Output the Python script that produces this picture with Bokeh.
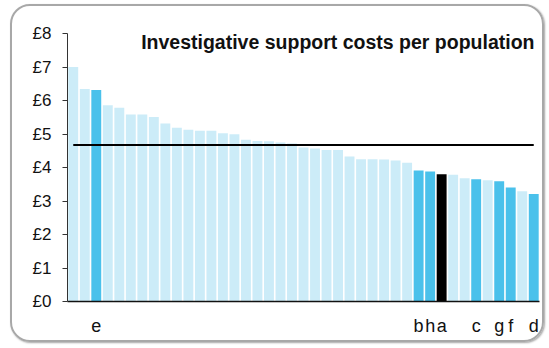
from bokeh.plotting import figure
from bokeh.models import Range1d, FixedTicker, PrintfTickFormatter, Label, ColumnDataSource
from bokeh.embed import file_html
from bokeh.resources import INLINE

# ---- data ----
values = [7.00, 6.34, 6.31, 5.86, 5.78, 5.58, 5.58, 5.51, 5.31, 5.19,
          5.13, 5.10, 5.10, 5.02, 4.99, 4.83, 4.79, 4.78, 4.75, 4.72,
          4.60, 4.57, 4.52, 4.52, 4.33, 4.25, 4.25, 4.24, 4.21, 4.14,
          3.91, 3.88, 3.80, 3.78, 3.68, 3.65, 3.62, 3.59, 3.40, 3.29,
          3.21]
labels = ["", "", "e", "", "", "", "", "", "", "",
          "", "", "", "", "", "", "", "", "", "",
          "", "", "", "", "", "", "", "", "", "",
          "b", "h", "a", "", "", "c", "", "g", "f", "",
          "d"]
# 0 = other, 1 = highlighted, 2 = selected
kinds = [0, 0, 1, 0, 0, 0, 0, 0, 0, 0,
         0, 0, 0, 0, 0, 0, 0, 0, 0, 0,
         0, 0, 0, 0, 0, 0, 0, 0, 0, 0,
         1, 1, 2, 0, 0, 1, 0, 1, 1, 0,
         1]
average = 4.67
title_text = "Investigative support costs per population"
y_ticks = [0, 1, 2, 3, 4, 5, 6, 7, 8]

palette = {0: "#CCECF8", 1: "#4AC1EB", 2: "#000000"}
xs = list(range(1, len(values) + 1))
colors = [palette[k] for k in kinds]
src = ColumnDataSource(dict(x=xs, top=values, color=colors))

FONT = "Liberation Sans"

p = figure(width=534, height=338, output_backend="svg", toolbar_location=None,
           x_range=Range1d(0.5, len(values) + 0.5), y_range=Range1d(0, 8),
           min_border_left=55, min_border_right=7, min_border_top=27, min_border_bottom=43,
           styles={"border": "2px solid #a8a8a8", "border-radius": "20px",
                   "box-shadow": "1px 1px 2px rgba(0,0,0,0.35)",
                   "margin-top": "4px", "margin-left": "10px"})
p.border_fill_color = None
p.background_fill_color = None
p.outline_line_color = None
p.xgrid.visible = False
p.ygrid.visible = False

p.vbar(x="x", top="top", bottom=0, width=0.86, color="color", line_color=None, source=src)
p.line(x=[xs[0], xs[-1]], y=[average, average], line_color="black", line_width=2)

# y axis
p.yaxis.ticker = FixedTicker(ticks=y_ticks)
p.yaxis.formatter = PrintfTickFormatter(format="£%d")
p.yaxis.major_tick_out = 5
p.yaxis.major_tick_in = 0
p.yaxis.minor_tick_line_color = None
p.yaxis.axis_line_color = "#333333"
p.yaxis.major_tick_line_color = "#333333"
p.yaxis.major_label_text_font = FONT
p.yaxis.major_label_text_font_size = "17px"
p.yaxis.major_label_text_color = "#111111"
p.yaxis.major_label_standoff = 11

# x axis
lab_pos = [x for x, l in zip(xs, labels) if l]
p.xaxis.ticker = FixedTicker(ticks=lab_pos)
p.xaxis.major_label_overrides = {x: l for x, l in zip(xs, labels) if l}
p.xaxis.major_tick_line_color = None
p.xaxis.minor_tick_line_color = None
p.xaxis.axis_line_color = "#111111"
p.xaxis.axis_line_width = 1.5
p.xaxis.major_label_text_font = FONT
p.xaxis.major_label_text_font_size = "18px"
p.xaxis.major_label_text_color = "#111111"
p.xaxis.major_label_standoff = 8

p.add_layout(Label(x=6.9, y=7.76, text=title_text, text_font=FONT,
                   text_font_size="19.5px", text_font_style="bold",
                   text_color="#111111", text_align="left", text_baseline="alphabetic"))

open("out.html", "w").write(file_html(p, INLINE))
